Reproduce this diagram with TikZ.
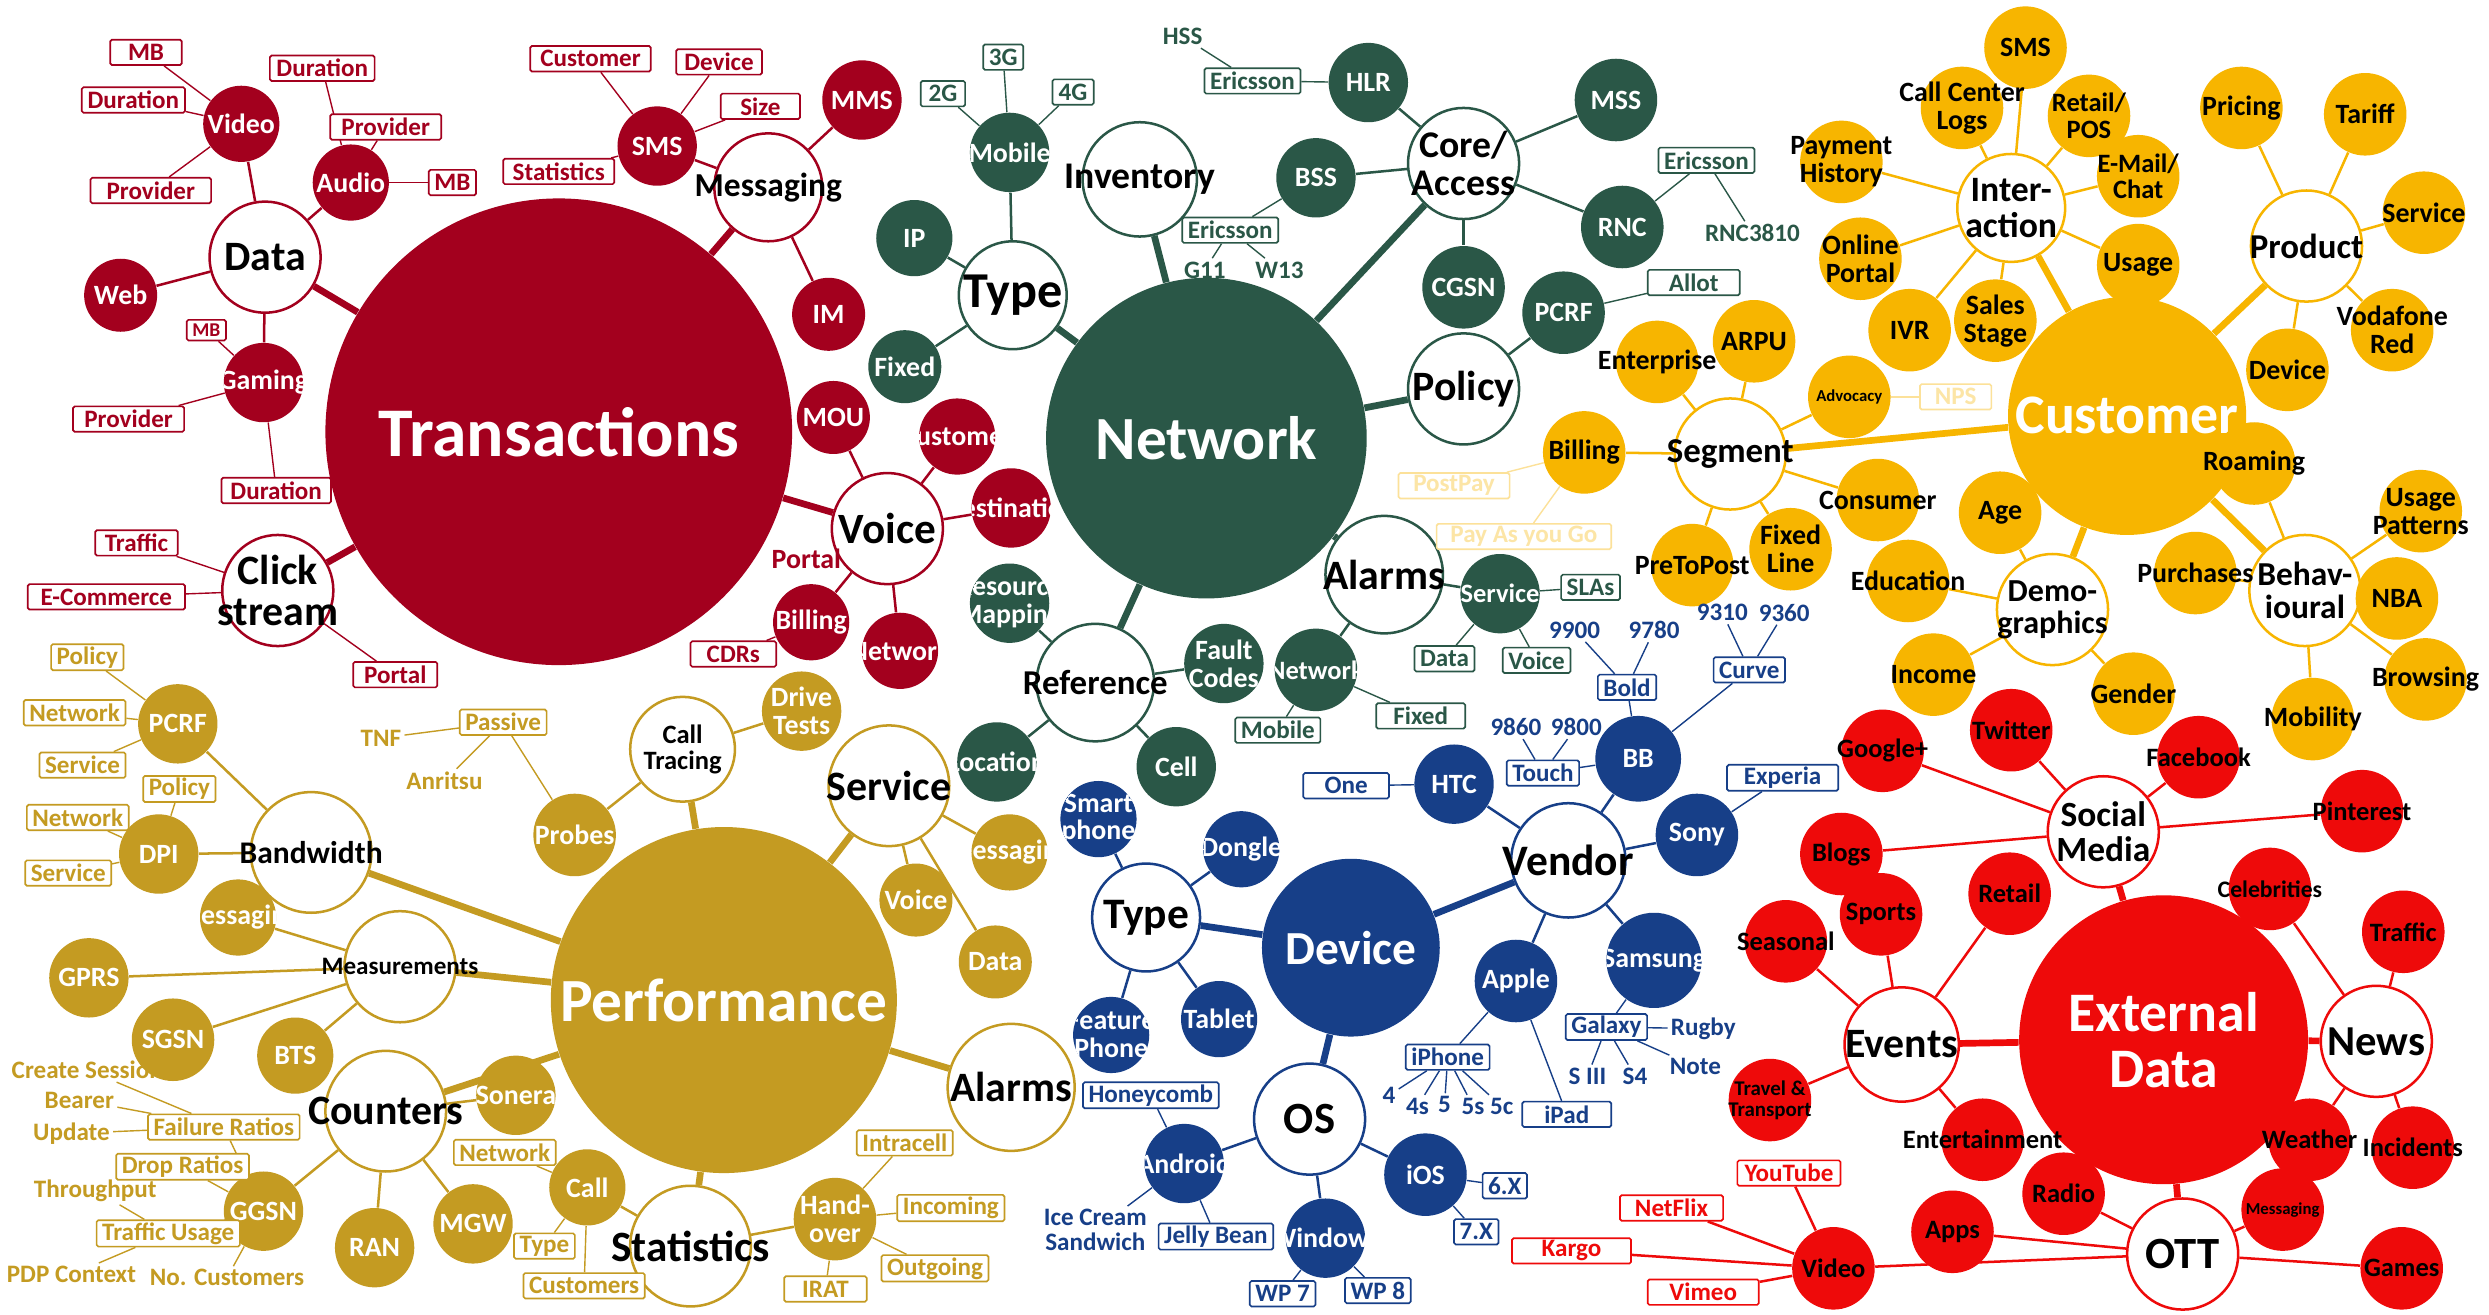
\documentclass[tikz,border=0pt]{standalone}
\usepackage{fontspec}
\setmainfont{Carlito}
\usetikzlibrary{backgrounds}
\definecolor{trans}{HTML}{A3001E}
\definecolor{netw}{HTML}{2A5747}
\definecolor{cust}{HTML}{F7B500}
\definecolor{perf}{HTML}{C49B22}
\definecolor{devc}{HTML}{173F88}
\definecolor{extd}{HTML}{EE0A0A}
\colorlet{cur}{black}
\newcommand\fs[1]{\fontsize{#1}{#1}\selectfont\bfseries}
\tikzset{
  ink/.style={text=black, align=center, inner sep=0pt},
  hub/.style={circle, fill=cur, text=white, align=center, inner sep=0pt, minimum size=#1*0.2mm},
  sub/.style n args={3}{circle, draw=cur, fill=white, line width=0.9pt, inner sep=0pt,
    minimum size=#1*0.2mm, append after command={node[ink, font=\fs{#2}] at (\tikzlastnode) {#3}}},
  leaf/.style n args={3}{circle, fill=cur, inner sep=0pt, minimum size=#1*0.2mm,
    path picture={\node[ink, text=white, font=\fs{#2}] at (path picture bounding box.center) {#3};}},
  ball/.style n args={3}{circle, fill=cur, inner sep=0pt, minimum size=#1*0.2mm,
    append after command={node[ink, font=\fs{#2}] at (\tikzlastnode) {#3}}},
  tag/.style={draw=cur, fill=white, text=cur, line width=0.6pt, rounded corners=0.6pt,
    font=\fs{9}, inner xsep=2pt, inner ysep=0.8pt, minimum height=3.2mm, minimum width=#1*0.2mm},
  tag/.default=0,
  ghost/.style={tag=#1, draw=cust!40, text=cust!35},
  ghost/.default=0,
  bare/.style={text=cur, font=\fs{9}, inner sep=1pt, align=center},
  thk/.style={draw=cur, line width=2.4pt},
  thn/.style={draw=cur, line width=0.9pt},
  hair/.style={draw=cur, line width=0.5pt},
}

\begin{document}
\begin{tikzpicture}[x=0.2mm, y=-0.2mm]
\useasboundingbox (0,0) rectangle (1568,828);
\begin{scope}[on background layer]
  \fill[white] (0,0) rectangle (1568,828);
\end{scope}

% ---------------- transactions ----------------
\begin{scope}
\colorlet{cur}{trans}
\node[hub=294, font=\fs{25}] (tr) at (352,272) {Transactions};
\node[sub={70}{15}{Data}] (data) at (167,162) {};
\node[sub={68}{12}{Messaging}] (msg) at (484,118) {};
\node[sub={70}{15.5}{Voice}] (voice) at (559,333) {};
\node[sub={70}{15}{Click\\stream}] (click) at (175,372) {};
% data
\node[leaf={48}{10}{Video}] (video) at (152,78) {};
\node[leaf={48}{10}{Audio}] (audio) at (221,115) {};
\node[leaf={46}{10}{Web}] (web) at (76,186) {};
\node[leaf={50}{10}{Gaming}] (game) at (166,241) {};
\node[tag=45] (vmb) at (92,33) {MB};
\node[tag=65] (vdur) at (84,63) {Duration};
\node[tag=76] (vprv) at (95,120) {Provider};
\node[tag=66] (adur) at (203,43) {Duration};
\node[tag=70] (aprv) at (243,80) {Provider};
\node[tag] (amb) at (285,115) {MB};
\node[tag, font=\fs{7}, minimum height=2.6mm] (gmb) at (130,208) {MB};
\node[tag=70] (gprv) at (81,264) {Provider};
\node[tag=69] (gdur) at (174,309) {Duration};
% messaging
\node[leaf={50}{10}{SMS}] (sms) at (414,92) {};
\node[leaf={50}{10}{MMS}] (mms) at (543,63) {};
\node[leaf={46}{10}{IM}] (im) at (522,198) {};
\node[tag=76] (scus) at (372,37) {Customer};
\node[tag=54] (sdev) at (453,39) {Device};
\node[tag=50] (ssiz) at (479,67) {Size};
\node[tag=70] (ssta) at (352,108) {Statistics};
% voice
\node[leaf={46}{10}{MOU}] (mou) at (525,263) {};
\node[leaf={48}{10}{Customer}] (vcus) at (603,275) {};
\node[leaf={50}{10}{Destination}] (dest) at (637,320) {};
\node[leaf={48}{10}{Network}] (vnet) at (567,410) {};
\node[leaf={48}{10}{Billing}] (bill) at (511,392) {};
\node[bare, font=\fs{10}] (vprt) at (508,352) {Portal};
\node[tag=54] (cdr) at (462,412) {CDRs};
% click stream
\node[tag=52] (ctrf) at (86,342) {Traffic};
\node[tag=99] (ecom) at (67,376) {E-Commerce};
\node[tag=53] (cprt) at (249,425) {Portal};
\begin{scope}[on background layer]
  \foreach \a/\b in {tr/data, tr/msg, tr/voice, tr/click} \draw[thk] (\a) -- (\b);
  \foreach \a/\b in {data/video, data/audio, data/web, data/game, msg/sms, msg/mms, msg/im,
    voice/mou, voice/vcus, voice/dest, voice/vnet, voice/bill} \draw[thn] (\a) -- (\b);
  \foreach \a/\b in {video/vmb, video/vdur, video/vprv, audio/adur, audio/aprv, audio/amb,
    game/gmb, game/gprv, game/gdur, sms/scus, sms/sdev, sms/ssiz, sms/ssta, bill/cdr,
    click/ctrf, click/ecom, click/cprt} \draw[hair] (\a) -- (\b);
\end{scope}
\end{scope}

% ---------------- network ----------------
\begin{scope}
\colorlet{cur}{netw}
\node[hub=202, font=\fs{22}] (net) at (760,276) {Network};
\node[sub={72}{13.5}{Inventory}] (inv) at (718,113) {};
\node[sub={68}{18}{Type}] (ntyp) at (638,186) {};
\node[sub={70}{13.5}{Core/\\Access}] (core) at (922,103) {};
\node[sub={70}{15}{Policy}] (pol) at (922,245) {};
\node[sub={74}{15}{Alarms}] (nalm) at (872,362) {};
\node[sub={74}{12.5}{Reference}] (ref) at (690,430) {};
% type
\node[leaf={50}{10}{Mobile}] (mobi) at (636,96) {};
\node[leaf={48}{10}{IP}] (ip) at (576,150) {};
\node[leaf={46}{10}{Fixed}] (fixd) at (570,231) {};
\node[tag=28] (g2) at (594,59) {2G};
\node[tag=22] (g3) at (632,36) {3G};
\node[tag=26] (g4) at (676,58) {4G};
% core / access
\node[leaf={50}{10}{HLR}] (hlr) at (862,52) {};
\node[leaf={50}{10}{BSS}] (bss) at (829,112) {};
\node[leaf={52}{10}{MSS}] (mss) at (1018,63) {};
\node[leaf={52}{10}{RNC}] (rnc) at (1022,143) {};
\node[leaf={52}{10}{CGSN}] (cgsn) at (922,181) {};
\node[tag] (herc) at (789,51) {Ericsson};
\node[bare] (hss) at (745,23) {HSS};
\node[tag] (berc) at (775,145) {Ericsson};
\node[bare] (g11) at (759,170) {G11};
\node[bare] (w13) at (806,170) {W13};
\node[tag] (rerc) at (1075,101) {Ericsson};
\node[bare] (r3810) at (1104,147) {RNC3810};
% policy
\node[leaf={52}{10}{PCRF}] (npcrf) at (985,197) {};
\node[tag=58] (allot) at (1067,178) {Allot};
% alarms
\node[leaf={50}{9.5}{Service}] (aser) at (945,374) {};
\node[leaf={52}{9.5}{Network}] (anet) at (829,422) {};
\node[tag] (slas) at (1002,370) {SLAs};
\node[tag] (adat) at (910,415) {Data};
\node[tag] (avoi) at (968,416) {Voice};
\node[tag] (amob) at (805,460) {Mobile};
\node[tag=56] (afix) at (895,451) {Fixed};
% reference
\node[leaf={50}{10}{Resource\\Mapping}] (resm) at (636,380) {};
\node[leaf={50}{10}{Fault\\Codes}] (flt) at (771,418) {};
\node[leaf={50}{10}{Location}] (loc) at (628,480) {};
\node[leaf={50}{10}{Cell}] (cell) at (741,483) {};
\begin{scope}[on background layer]
  \foreach \a/\b in {net/inv, net/ntyp, net/core, net/pol, net/nalm, net/ref} \draw[thk] (\a) -- (\b);
  \foreach \a/\b in {ntyp/mobi, ntyp/ip, ntyp/fixd, core/hlr, core/bss, core/mss, core/rnc,
    core/cgsn, pol/npcrf, nalm/aser, nalm/anet, ref/resm, ref/flt, ref/loc, ref/cell} \draw[thn] (\a) -- (\b);
  \foreach \a/\b in {mobi/g2, mobi/g3, mobi/g4, hlr/herc, herc/hss, bss/berc, berc/g11, berc/w13,
    rnc/rerc, rerc/r3810, npcrf/allot, aser/slas, aser/adat, aser/avoi, anet/amob, anet/afix}
    \draw[hair] (\a) -- (\b);
\end{scope}
\end{scope}

% ---------------- customer ----------------
\begin{scope}
\colorlet{cur}{cust}
\node[hub=150, font=\fs{20}] (cus) at (1340,262) {Customer};
\node[sub={68}{12.8}{Inter-\\action}] (int) at (1267,131) {};
\node[sub={70}{12.5}{Product}] (prod) at (1453,155) {};
\node[sub={70}{12.5}{Segment}] (seg) at (1090,286) {};
\node[sub={70}{11.5}{Demo-\\graphics}] (demo) at (1293,384) {};
\node[sub={70}{12}{Behav-\\ioural}] (beh) at (1452,372) {};
% interaction
\node[ball={52}{10}{SMS}] (csms) at (1276,30) {};
\node[ball={52}{10}{Call Center\\Logs}] (ccl) at (1236,68) {};
\node[ball={52}{9.5}{Retail/\\POS}] (retl) at (1316,73) {};
\node[ball={52}{10}{Payment\\History}] (payh) at (1160,102) {};
\node[ball={52}{9.5}{E-Mail/\\Chat}] (mail) at (1347,111) {};
\node[ball={52}{10}{Online\\Portal}] (onl) at (1172,163) {};
\node[ball={52}{10}{Usage}] (usg) at (1347,167) {};
\node[ball={52}{10}{IVR}] (ivr) at (1203,208) {};
\node[ball={52}{10}{Sales\\Stage}] (sale) at (1257,202) {};
% product
\node[ball={52}{10}{Pricing}] (pric) at (1412,68) {};
\node[ball={52}{10}{Tariff}] (tarf) at (1490,72) {};
\node[ball={52}{10}{Service}] (psrv) at (1527,134) {};
\node[ball={52}{10}{Vodafone\\Red}] (voda) at (1507,208) {};
\node[ball={52}{10}{Device}] (pdev) at (1441,233) {};
% segment
\node[ball={52}{10}{Enterprise}] (ent) at (1044,228) {};
\node[ball={52}{10}{ARPU}] (arpu) at (1105,215) {};
\node[ball={52}{6}{Advocacy}] (adv) at (1165,250) {};
\node[ball={52}{10}{Billing}] (sbil) at (998,285) {};
\node[ball={52}{10}{Consumer}] (cons) at (1183,315) {};
\node[ball={52}{10}{PreToPost}] (p2p) at (1066,356) {};
\node[ball={52}{10}{Fixed\\Line}] (flin) at (1128,346) {};
\node[ghost=45] (nps) at (1232,250) {NPS};
\node[ghost=70] (post) at (916,306) {PostPay};
\node[ghost=110] (payg) at (960,338) {Pay As you Go};
% demographics
\node[ball={52}{10}{Age}] (age) at (1260,323) {};
\node[ball={52}{10}{Education}] (edu) at (1202,366) {};
\node[ball={52}{10}{Income}] (inc) at (1218,425) {};
\node[ball={52}{10}{Gender}] (gend) at (1344,437) {};
% behavioural
\node[ball={52}{10}{Roaming}] (roam) at (1420,292) {};
\node[ball={52}{10}{Usage\\Patterns}] (upat) at (1525,322) {};
\node[ball={52}{10}{Purchases}] (purc) at (1383,361) {};
\node[ball={52}{10}{NBA}] (nba) at (1510,377) {};
\node[ball={52}{10}{Browsing}] (brow) at (1528,428) {};
\node[ball={52}{10}{Mobility}] (mobl) at (1457,453) {};
\begin{scope}[on background layer]
  \foreach \a/\b in {cus/int, cus/prod, cus/seg, cus/demo, cus/beh} \draw[thk] (\a) -- (\b);
  \foreach \a/\b in {int/csms, int/ccl, int/retl, int/payh, int/mail, int/onl, int/usg, int/ivr,
    int/sale, prod/pric, prod/tarf, prod/psrv, prod/voda, prod/pdev, seg/ent, seg/arpu, seg/adv,
    seg/sbil, seg/cons, seg/p2p, seg/flin, demo/age, demo/edu, demo/inc, demo/gend, beh/roam,
    beh/upat, beh/purc, beh/nba, beh/brow, beh/mobl} \draw[thn] (\a) -- (\b);
  \foreach \a/\b in {adv/nps, sbil/post, sbil/payg} \draw[hair, cust!40] (\a) -- (\b);
\end{scope}
\end{scope}

% ---------------- performance ----------------
\begin{scope}
\colorlet{cur}{perf}
\node[hub=218, font=\fs{22}] (perf) at (456,630) {Performance};
\node[sub={76}{11.3}{Bandwidth}] (bw) at (196,537) {};
\node[sub={66}{9.5}{Call\\Tracing}] (ctr) at (430,472) {};
\node[sub={76}{15}{Service}] (psv) at (560,495) {};
\node[sub={70}{9}{Measurements}] (meas) at (252,609) {};
\node[sub={76}{15}{Counters}] (cnt) at (243,700) {};
\node[sub={76}{15.5}{Statistics}] (stat) at (435,785) {};
\node[sub={80}{15}{Alarms}] (palm) at (637,685) {};
% bandwidth
\node[leaf={50}{10}{PCRF}] (ppcrf) at (112,456) {};
\node[leaf={50}{10}{DPI}] (dpi) at (100,538) {};
\node[tag] (pp1) at (55,414) {Policy};
\node[tag] (pp2) at (47,449) {Network};
\node[tag] (pp3) at (52,482) {Service};
\node[tag] (dp1) at (113,497) {Policy};
\node[tag] (dp2) at (49,515) {Network};
\node[tag] (dp3) at (43,550) {Service};
% call tracing
\node[leaf={52}{10}{Probes}] (prob) at (362,526) {};
\node[leaf={50}{10}{Drive\\Tests}] (drv) at (505,448) {};
\node[tag] (pasv) at (317,455) {Passive};
\node[bare] (tnf) at (240,465) {TNF};
\node[bare] (anri) at (280,492) {Anritsu};
% service
\node[leaf={48}{10}{Messaging}] (smsg) at (636,537) {};
\node[leaf={46}{10}{Voice}] (svoi) at (577,567) {};
\node[leaf={46}{10}{Data}] (sdat) at (627,606) {};
% measurements
\node[leaf={48}{10}{Messaging}] (mmsg) at (150,578) {};
\node[leaf={50}{10}{GPRS}] (gprs) at (56,616) {};
\node[leaf={52}{10}{SGSN}] (sgsn) at (109,655) {};
\node[leaf={48}{10}{BTS}] (bts) at (186,665) {};
% counters
\node[leaf={50}{10}{Sonera}] (son) at (325,690) {};
\node[leaf={50}{10}{GGSN}] (ggsn) at (166,763) {};
\node[leaf={50}{10}{RAN}] (ran) at (236,786) {};
\node[leaf={50}{10}{MGW}] (mgw) at (298,771) {};
\node[tag] (fail) at (141,710) {Failure Ratios};
\node[tag] (drop) at (115,735) {Drop Ratios};
\node[tag] (tuse) at (106,777) {Traffic Usage};
\node[bare] (crs) at (55,674) {Create Session};
\node[bare] (bear) at (50,693) {Bearer};
\node[bare] (upd) at (45,714) {Update};
\node[bare] (thru) at (60,750) {Throughput};
\node[bare] (pdp) at (45,803) {PDP Context};
\node[bare] (ncus) at (143,805) {No. Customers};
% statistics
\node[leaf={48}{10}{Call}] (call) at (370,748) {};
\node[leaf={52}{10}{Hand-\\over}] (hand) at (526,768) {};
\node[tag] (cnet) at (318,726) {Network};
\node[tag] (ctyp) at (343,785) {Type};
\node[tag] (ccus) at (368,810) {Customers};
\node[tag] (intr) at (570,720) {Intracell};
\node[tag] (inco) at (599,761) {Incoming};
\node[tag] (outg) at (589,799) {Outgoing};
\node[tag=52] (irat) at (520,812) {IRAT};
\begin{scope}[on background layer]
  \foreach \a/\b in {perf/bw, perf/ctr, perf/psv, perf/meas, perf/cnt, perf/stat, perf/palm}
    \draw[thk] (\a) -- (\b);
  \foreach \a/\b in {bw/ppcrf, bw/dpi, ctr/prob, ctr/drv, psv/smsg, psv/svoi, psv/sdat,
    meas/mmsg, meas/gprs, meas/sgsn, meas/bts, cnt/son, cnt/ggsn, cnt/ran, cnt/mgw,
    stat/call, stat/hand} \draw[thn] (\a) -- (\b);
  \foreach \a/\b in {ppcrf/pp1, ppcrf/pp2, ppcrf/pp3, dpi/dp1, dpi/dp2, dpi/dp3, prob/pasv,
    pasv/tnf, pasv/anri, crs/fail, bear/fail, upd/fail, fail/ggsn, drop/ggsn, thru/tuse,
    tuse/ggsn, pdp/tuse, ncus/ggsn, call/cnet, call/ctyp, call/ccus, hand/intr, hand/inco,
    hand/outg, hand/irat} \draw[hair] (\a) -- (\b);
\end{scope}
\end{scope}

% ---------------- device ----------------
\begin{scope}
\colorlet{cur}{devc}
\node[hub=112, font=\fs{17}] (dev) at (851,597) {Device};
\node[sub={68}{15.6}{Type}] (dtyp) at (722,578) {};
\node[sub={72}{15.6}{Vendor}] (vend) at (988,542) {};
\node[sub={70}{16}{OS}] (os) at (825,705) {};
% type
\node[leaf={48}{10}{Smart\\phone}] (smart) at (692,516) {};
\node[leaf={48}{10}{Dongle}] (dong) at (782,535) {};
\node[leaf={48}{10}{Feature\\Phone}] (feat) at (700,652) {};
\node[leaf={48}{10}{Tablet}] (tabl) at (768,642) {};
% vendor
\node[leaf={50}{10}{HTC}] (htc) at (916,494) {};
\node[leaf={54}{10}{BB}] (bb) at (1032,478) {};
\node[leaf={52}{10}{Sony}] (sony) at (1069,526) {};
\node[leaf={60}{10}{Samsung}] (sams) at (1042,605) {};
\node[leaf={52}{10}{Apple}] (appl) at (955,618) {};
\node[tag=54] (one) at (848,495) {One};
\node[tag] (bold) at (1025,433) {Bold};
\node[tag] (curv) at (1102,422) {Curve};
\node[tag] (tch) at (972,487) {Touch};
\node[bare] (n9900) at (992,397) {9900};
\node[bare] (n9780) at (1042,397) {9780};
\node[bare] (n9310) at (1085,386) {9310};
\node[bare] (n9360) at (1124,386) {9360};
\node[bare] (n9860) at (955,458) {9860};
\node[bare] (n9800) at (993,458) {9800};
\node[tag=70] (xper) at (1123,490) {Experia};
\node[tag] (galx) at (1012,647) {Galaxy};
\node[bare] (rugb) at (1073,648) {Rugby};
\node[bare] (s3) at (1000,678) {S III};
\node[bare] (s4) at (1030,678) {S4};
\node[bare] (note) at (1068,672) {Note};
\node[tag] (iphn) at (912,666) {iPhone};
\node[tag=56] (ipad) at (987,702) {iPad};
\node[bare] (i4) at (875,690) {4};
\node[bare] (i4s) at (893,697) {4s};
\node[bare] (i5) at (910,696) {5};
\node[bare] (i5s) at (928,697) {5s};
\node[bare] (i5c) at (946,697) {5c};
% os
\node[leaf={50}{10}{Android}] (andr) at (746,733) {};
\node[leaf={52}{10}{iOS}] (ios) at (898,740) {};
\node[leaf={50}{10}{Windows}] (win) at (835,780) {};
\node[tag] (honey) at (725,690) {Honeycomb};
\node[bare] (ics) at (690,775) {Ice Cream\\Sandwich};
\node[tag] (jelly) at (766,779) {Jelly Bean};
\node[tag] (x6) at (948,747) {6.X};
\node[tag] (x7) at (930,776) {7.X};
\node[tag] (wp7) at (808,815) {WP 7};
\node[tag] (wp8) at (868,813) {WP 8};
\begin{scope}[on background layer]
  \foreach \a/\b in {dev/dtyp, dev/vend, dev/os} \draw[thk] (\a) -- (\b);
  \foreach \a/\b in {dtyp/smart, dtyp/dong, dtyp/feat, dtyp/tabl, vend/htc, vend/bb, vend/sony,
    vend/sams, vend/appl, os/andr, os/ios, os/win} \draw[thn] (\a) -- (\b);
  \foreach \a/\b in {htc/one, bb/bold, bb/curv, bb/tch, bold/n9900, bold/n9780, curv/n9310,
    curv/n9360, tch/n9860, tch/n9800, sony/xper, sams/galx, galx/rugb, galx/s3, galx/s4,
    galx/note, appl/iphn, appl/ipad, iphn/i4, iphn/i4s, iphn/i5, iphn/i5s, iphn/i5c,
    andr/honey, andr/ics, andr/jelly, ios/x6, ios/x7, win/wp7, win/wp8} \draw[hair] (\a) -- (\b);
\end{scope}
\end{scope}

% ---------------- external data ----------------
\begin{scope}
\colorlet{cur}{extd}
\node[hub=182, font=\fs{20}] (ext) at (1363,655) {External\\Data};
\node[sub={70}{12.7}{Social\\Media}] (soc) at (1325,524) {};
\node[sub={72}{15}{Events}] (evt) at (1198,658) {};
\node[sub={70}{15.3}{News}] (news) at (1497,656) {};
\node[sub={70}{16}{OTT}] (ott) at (1375,790) {};
% social media
\node[ball={52}{9.5}{Google+}] (goog) at (1186,473) {};
\node[ball={52}{9.5}{Twitter}] (twit) at (1267,460) {};
\node[ball={52}{9.5}{Facebook}] (fb) at (1385,477) {};
\node[ball={52}{9.5}{Pinterest}] (pin) at (1488,511) {};
\node[ball={52}{9.5}{Blogs}] (blog) at (1160,538) {};
% events
\node[ball={52}{9.5}{Seasonal}] (seas) at (1125,593) {};
\node[ball={52}{9.5}{Sports}] (sprt) at (1185,576) {};
\node[ball={52}{9.5}{Retail}] (retx) at (1266,563) {};
\node[ball={52}{7.5}{Travel \&\\Transport}] (trav) at (1115,693) {};
\node[ball={52}{9.5}{Entertainment}] (ente) at (1249,718) {};
% news
\node[ball={52}{8.5}{Celebrities}] (celb) at (1430,560) {};
\node[ball={52}{9.5}{Traffic}] (ntrf) at (1514,587) {};
\node[ball={52}{9.5}{Weather}] (wthr) at (1455,718) {};
\node[ball={52}{9.5}{Incidents}] (inci) at (1520,723) {};
% ott
\node[ball={52}{9.5}{Radio}] (radi) at (1300,752) {};
\node[ball={52}{9.5}{Apps}] (apps) at (1230,776) {};
\node[ball={52}{6}{Messaging}] (omsg) at (1438,762) {};
\node[ball={52}{9.5}{Games}] (gams) at (1513,799) {};
\node[ball={52}{9.5}{Video}] (ovid) at (1155,799) {};
\node[tag=65] (ytub) at (1127,739) {YouTube};
\node[tag=65] (nflx) at (1053,761) {NetFlix};
\node[tag=75] (karg) at (990,788) {Kargo};
\node[tag=70] (vime) at (1073,814) {Vimeo};
\begin{scope}[on background layer]
  \foreach \a/\b in {ext/soc, ext/evt, ext/news, ext/ott} \draw[thk] (\a) -- (\b);
  \foreach \a/\b in {soc/goog, soc/twit, soc/fb, soc/pin, soc/blog, evt/seas, evt/sprt, evt/retx,
    evt/trav, evt/ente, news/celb, news/ntrf, news/wthr, news/inci, ott/radi, ott/apps,
    ott/omsg, ott/gams, ott/ovid} \draw[thn] (\a) -- (\b);
  \foreach \a/\b in {ovid/ytub, ovid/nflx, ovid/karg, ovid/vime} \draw[thn] (\a) -- (\b);
\end{scope}
\end{scope}
\end{tikzpicture}
\end{document}
